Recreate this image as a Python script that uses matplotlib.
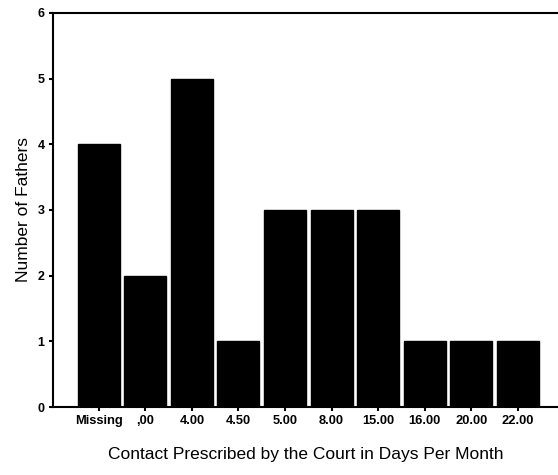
import matplotlib
matplotlib.use("Agg")
import matplotlib.pyplot as plt

categories = ["Missing", ",00", "4.00", "4.50", "5.00", "8.00", "15.00", "16.00", "20.00", "22.00"]
counts = [4, 2, 5, 1, 3, 3, 3, 1, 1, 1]
y_ticks = [0, 1, 2, 3, 4, 5, 6]

plt.rcParams['font.family'] = ['Liberation Sans', 'DejaVu Sans']

fig = plt.figure(figsize=(5.58, 4.75), dpi=100)
ax = fig.add_axes([0.095, 0.143, 0.905, 0.830])

x = list(range(len(categories)))
ax.bar(x, counts, width=0.9, color="black", edgecolor="black")

ax.set_xlim(-0.98, 9.86)
ax.set_ylim(0, 6)
ax.set_yticks(y_ticks)
ax.set_yticklabels([str(v) for v in y_ticks], fontsize=9, fontweight="bold")
ax.set_xticks(x)
ax.set_xticklabels(categories, fontsize=9.3, fontweight="bold")
ax.tick_params(axis="both", direction="out", length=3, width=1.5, color="black", pad=3)

for s in ["left", "bottom", "top"]:
    ax.spines[s].set_linewidth(1.5)
    ax.spines[s].set_color("black")
ax.spines["right"].set_visible(False)

ax.set_ylabel("Number of Fathers", fontsize=12.5, labelpad=5)
ax.set_xlabel("Contact Prescribed by the Court in Days Per Month", fontsize=12.5, labelpad=14)

fig.savefig("out.png", dpi=100)
